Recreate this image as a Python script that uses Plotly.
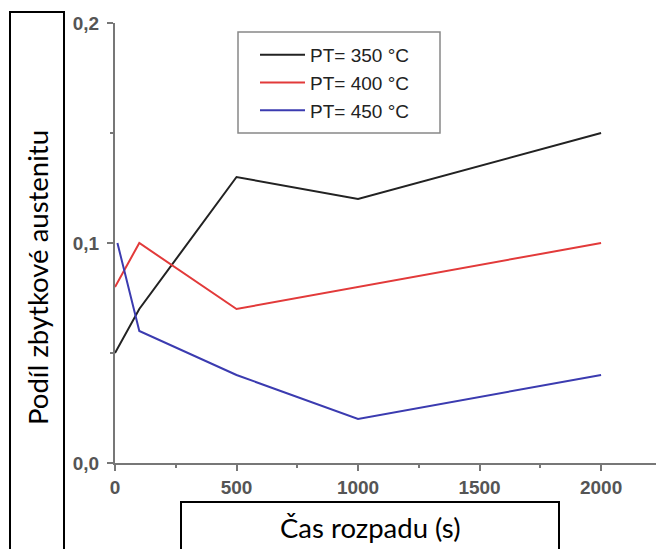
import plotly.graph_objects as go

# ---- data ----
time_s = [0, 100, 500, 1000, 2000]
pt350 = [0.05, 0.07, 0.13, 0.12, 0.15]
pt400 = [0.08, 0.10, 0.07, 0.08, 0.10]
pt450_time = [10, 100, 500, 1000, 2000]
pt450 = [0.10, 0.06, 0.04, 0.02, 0.04]
series_names = ["PT= 350 °C", "PT= 400 °C", "PT= 450 °C"]
series_colors = ["#222222", "#e23a3a", "#3b3bb0"]
y_title = "Podíl zbytkové austenitu"
x_title = "Čas rozpadu (s)"

W, H = 656, 549
L, R, T, B = 115, 0, 23, 86
pw, ph = W - L - R, H - T - B

def px(x):
    return (x - L) / pw

def py(y):
    return (H - B - y) / ph

fig = go.Figure()
for xs, ys, name, col in [(time_s, pt350, series_names[0], series_colors[0]),
                          (time_s, pt400, series_names[1], series_colors[1]),
                          (pt450_time, pt450, series_names[2], series_colors[2])]:
    fig.add_trace(go.Scatter(x=xs, y=ys, mode="lines", name=name,
                             line=dict(color=col, width=2)))

axis_font = dict(family="Liberation Sans, Arial, sans-serif", size=19, color="#555",
                 weight="bold")

fig.update_layout(
    width=W, height=H,
    margin=dict(l=L, r=R, t=T, b=B),
    paper_bgcolor="white", plot_bgcolor="white",
    separators=",.",
    showlegend=True,
    legend=dict(x=px(255), y=py(36), xanchor="left", yanchor="top",
                borderwidth=0, bgcolor="rgba(0,0,0,0)",
                font=dict(family="Liberation Sans, Arial, sans-serif", size=19, color="#222"),
                itemwidth=45, tracegroupgap=0),
    xaxis=dict(range=[0, 2226], tickvals=[0, 500, 1000, 1500, 2000], tickformat="d",
               showgrid=False, zeroline=False, showline=True, linecolor="#777", linewidth=2,
               ticks="outside", ticklen=6, tickwidth=1.5, tickcolor="#777",
               minor=dict(tickvals=[250, 750, 1250, 1750], ticks="outside", ticklen=3,
                          tickcolor="#777", tickwidth=1.5),
               tickfont=axis_font),
    yaxis=dict(range=[0, 0.2], tickvals=[0, 0.1, 0.2], tickformat=".1f",
               showgrid=False, zeroline=False, showline=True, linecolor="#777", linewidth=2,
               ticks="outside", ticklen=6, tickwidth=1.5, tickcolor="#777",
               ticklabelstandoff=4,
               minor=dict(tickvals=[0.05, 0.15], ticks="outside", ticklen=3,
                          tickcolor="#777", tickwidth=1.5),
               tickfont=axis_font),
)

# legend frame
fig.add_shape(type="rect", xref="paper", yref="paper",
              x0=px(238), x1=px(440), y0=py(133), y1=py(32),
              line=dict(color="#888", width=1.5), fillcolor="rgba(0,0,0,0)", layer="above")

# boxes around axis titles
fig.add_shape(type="rect", xref="paper", yref="paper",
              x0=px(10), x1=px(64), y0=py(H + 5), y1=py(12),
              line=dict(color="black", width=2), fillcolor="white", layer="above")
fig.add_shape(type="rect", xref="paper", yref="paper",
              x0=px(181), x1=px(559), y0=py(H + 5), y1=py(502),
              line=dict(color="black", width=2), fillcolor="white", layer="above")

title_font = dict(family="Lato, Noto Sans, sans-serif", size=27.5, color="black")
fig.add_annotation(text=y_title, xref="paper", yref="paper", x=px(37), y=py(278),
                   textangle=-90, showarrow=False, font=title_font,
                   xanchor="center", yanchor="middle")
fig.add_annotation(text=x_title, xref="paper", yref="paper", x=px(370), y=py(527),
                   showarrow=False, font=title_font, xanchor="center", yanchor="middle")

fig.write_html("out.html")
